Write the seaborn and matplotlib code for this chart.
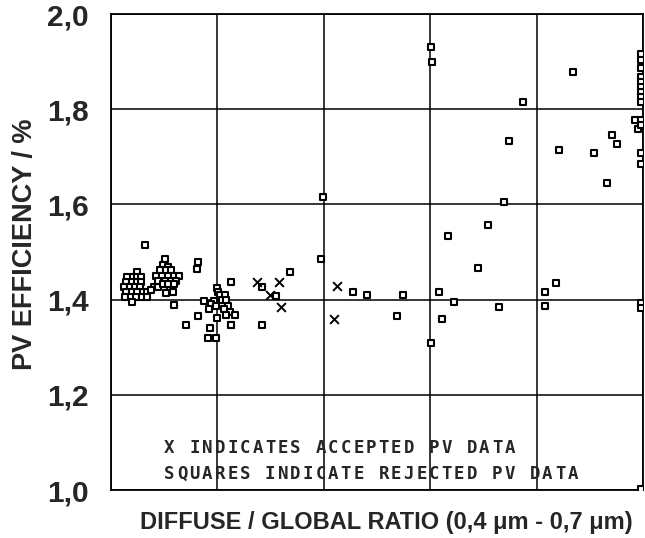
import numpy as np
import pandas as pd
import matplotlib
matplotlib.use("Agg")
import matplotlib.pyplot as plt
import seaborn as sns

# rejected PV data (squares)
rej_ratio = [0.064, 0.049,
             0.030, 0.041, 0.049, 0.056,
             0.028, 0.039, 0.048, 0.056,
             0.024, 0.036, 0.045, 0.055, 0.080, 0.089,
             0.028, 0.039, 0.049, 0.060, 0.068, 0.076,
             0.026, 0.037, 0.047, 0.058, 0.067, 0.039,
             0.102, 0.097, 0.108, 0.092, 0.103, 0.112,
             0.085, 0.095, 0.108, 0.118, 0.128,
             0.089, 0.102, 0.112, 0.123,
             0.098, 0.108, 0.118,
             0.110, 0.117, 0.103, 0.118, 0.164, 0.161,
             0.174, 0.199, 0.201, 0.205, 0.214, 0.208, 0.217, 0.194, 0.188, 0.197,
             0.220, 0.184, 0.213, 0.224, 0.233, 0.217, 0.163, 0.199, 0.226, 0.186,
             0.183, 0.197, 0.141, 0.225,
             0.283, 0.336, 0.394, 0.311, 0.225, 0.283,
             0.399, 0.455, 0.481, 0.548, 0.538,
             0.601, 0.603, 0.774, 0.748, 0.739, 0.709, 0.633, 0.690, 0.617, 0.645,
             0.730, 0.622, 0.601,
             0.869, 0.941, 0.952, 0.842, 0.908, 0.932, 0.836, 0.816, 0.816, 0.985, 0.991,
             0.996, 0.996, 0.996, 0.996, 0.996, 0.996, 0.996, 0.996, 0.996,
             0.996, 0.996, 0.996, 0.996, 0.996, 0.996, 0.996]
rej_eff = [1.515, 1.459,
           1.448, 1.448, 1.448, 1.448,
           1.438, 1.438, 1.438, 1.438,
           1.427, 1.427, 1.427, 1.427, 1.427, 1.427,
           1.417, 1.417, 1.417, 1.417, 1.417, 1.420,
           1.406, 1.406, 1.406, 1.406, 1.406, 1.396,
           1.485, 1.473, 1.469, 1.462, 1.462, 1.462,
           1.449, 1.449, 1.449, 1.449, 1.449,
           1.440, 1.440, 1.440, 1.440,
           1.433, 1.433, 1.433,
           1.420, 1.415, 1.413, 1.389, 1.478, 1.465,
           1.397, 1.425, 1.417, 1.410, 1.410, 1.399, 1.399, 1.397, 1.390, 1.387,
           1.387, 1.380, 1.380, 1.375, 1.368, 1.368, 1.366, 1.361, 1.347, 1.340,
           1.320, 1.319, 1.347, 1.436,
           1.426, 1.457, 1.485, 1.408, 1.347, 1.347,
           1.615, 1.415, 1.410, 1.410, 1.366,
           1.930, 1.899, 1.816, 1.734, 1.606, 1.557, 1.534, 1.466, 1.416, 1.396,
           1.385, 1.359, 1.308,
           1.879, 1.746, 1.726, 1.714, 1.707, 1.646, 1.434, 1.415, 1.387, 1.777, 1.758,
           1.917, 1.903, 1.886, 1.868, 1.858, 1.847, 1.837, 1.826, 1.816,
           1.777, 1.767, 1.707, 1.685, 1.392, 1.382, 1.002]

# accepted PV data (crosses)
acc_ratio = [0.275, 0.316, 0.299, 0.319, 0.424, 0.420]
acc_eff = [1.436, 1.436, 1.410, 1.385, 1.429, 1.359]

y_ticks = [1.0, 1.2, 1.4, 1.6, 1.8, 2.0]
y_tick_labels = ["1,0", "1,2", "1,4", "1,6", "1,8", "2,0"]
x_grid = [0.0, 0.2, 0.4, 0.6, 0.8, 1.0]

note_lines = ["X INDICATES ACCEPTED PV DATA",
              "SQUARES INDICATE REJECTED PV DATA"]

sns.set_style("white")
plt.rcParams["font.family"] = ["Liberation Sans", "DejaVu Sans"]

rejected = pd.DataFrame({"ratio": rej_ratio, "eff": rej_eff})
accepted = pd.DataFrame({"ratio": acc_ratio, "eff": acc_eff})

fig, ax = plt.subplots(figsize=(6.45, 5.38), dpi=100)
fig.subplots_adjust(left=111 / 645, right=643 / 645, bottom=48 / 538, top=524 / 538)

sns.scatterplot(data=rejected, x="ratio", y="eff", marker="s", s=18,
                facecolor="white", edgecolor="black", linewidth=1.5, ax=ax, zorder=3)
sns.scatterplot(data=accepted, x="ratio", y="eff", marker="x", s=40,
                color="black", linewidth=1.4, ax=ax, zorder=3)

ax.set_xlim(0, 1)
ax.set_ylim(1, 2)
ax.set_xticks(x_grid)
ax.set_xticklabels([])
ax.set_yticks(y_ticks)
ax.set_yticklabels(y_tick_labels, fontsize=21.5, fontweight="bold")
ax.tick_params(axis="x", length=0)
ax.tick_params(axis="y", direction="out", length=7, width=1.1, pad=9, color="black")
ax.grid(True, color="black", linewidth=1.1)
ax.set_axisbelow(True)
for sp in ax.spines.values():
    sp.set_color("black")
    sp.set_linewidth(1.3)

ax.set_xlabel("DIFFUSE / GLOBAL RATIO (0,4 μm - 0,7 μm)", fontsize=17, fontweight="bold")
ax.xaxis.set_label_coords(0.517, -0.044)
ax.set_ylabel("PV EFFICIENCY / %", fontsize=19.5, fontweight="bold")
ax.yaxis.set_label_coords(-0.137, 0.517)

# dot-matrix style note, one character per cell
pitch = 12.6 / 532
for row, (line, yy) in enumerate(zip(note_lines, [0.088, 0.034])):
    for i, ch in enumerate(line):
        ax.text(0.098 + (i + 0.5) * pitch, yy, ch, transform=ax.transAxes,
                ha="center", va="center", fontsize=12.5, fontweight="bold",
                family="DejaVu Sans Mono")

fig.savefig("out.png", dpi=100)
